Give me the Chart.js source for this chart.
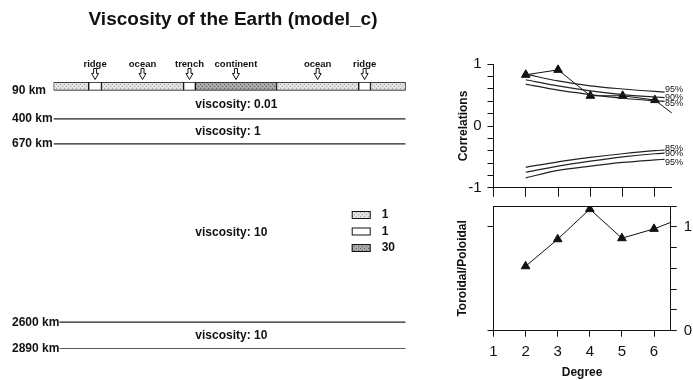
<!DOCTYPE html>
<html>
<head>
<meta charset="utf-8">
<script src="https://cdn.jsdelivr.net/npm/chart.js@4/dist/chart.umd.min.js"></script>
<style>
  html, body { margin: 0; padding: 0; background: #fff; }
  #wrap { position: relative; width: 693px; height: 380px; overflow: hidden; }
  canvas { position: absolute; }
  #model { left: 0; top: 0; }
  #corr { left: 420px; top: 40px; }
  #ratio { left: 420px; top: 200px; }
</style>
</head>
<body>
<div id="wrap">
  <canvas id="model" width="420" height="380"></canvas>
  <canvas id="corr" width="273" height="160"></canvas>
  <canvas id="ratio" width="273" height="180"></canvas>
</div>
<script>
/* Earth model strip (longitude 0..360) */
const segEdges = [0, 36, 49, 133, 145, 228, 312, 324, 360];
const segKind = ['ocean', 'ridge', 'ocean', 'trench', 'continent', 'ocean', 'ridge', 'ocean'];
const segTag = ['', 'ridge', 'ocean', 'trench', 'continent', 'ocean', 'ridge', ''];
const layerDepths = [90, 400, 670, 2600, 2890];
const layerViscosity = ['0.01', '1', '10', '10'];
const legendKinds = ['ocean', 'ridge', 'continent'];
const legendValues = ['1', '1', '30'];

/* right hand panels */
const degrees = [2, 3, 4, 5, 6, 7];
const correlation = [0.83, 0.91, 0.49, 0.49, 0.42, 0.02];
const toroidalRatio = [0.62, 0.88, 1.17, 0.89, 0.98, 1.10];
const sigDegrees = [2, 3, 4, 5, 6, 6.3];
const sig95 = [0.84, 0.73, 0.65, 0.60, 0.56, 0.55];
const sig90 = [0.75, 0.65, 0.57, 0.51, 0.47, 0.46];
const sig85 = [0.68, 0.58, 0.51, 0.45, 0.41, 0.40];
const sig85Low = [-0.67, -0.58, -0.51, -0.45, -0.40, -0.39];
const sig90Low = [-0.75, -0.65, -0.57, -0.50, -0.45, -0.44];
const sig95Low = [-0.84, -0.72, -0.65, -0.59, -0.55, -0.54];

const FAM = '"Liberation Sans", Arial, Helvetica, sans-serif';
const INK = '#111';
Chart.defaults.font.family = FAM;
Chart.defaults.color = INK;

function stipple(base, dot){
  const c = document.createElement('canvas');
  c.width = 4; c.height = 4;
  const g = c.getContext('2d');
  g.fillStyle = base; g.fillRect(0, 0, 4, 4);
  g.fillStyle = dot; g.fillRect(0, 0, 1, 1); g.fillRect(2, 2, 1, 1);
  return g.createPattern(c, 'repeat');
}
const fills = {
  ocean: stipple('#e2e2e2', '#a4a4a4'),
  ridge: '#ffffff',
  trench: '#ffffff',
  continent: stipple('#a8a8a8', '#5e5e5e')
};

function drawArrow(ctx, cx, y0, y1){
  const mid = y0 + (y1 - y0) * 0.45;
  ctx.beginPath();
  ctx.moveTo(cx - 1.5, y0); ctx.lineTo(cx + 1.5, y0); ctx.lineTo(cx + 1.5, mid);
  ctx.lineTo(cx + 3.5, mid); ctx.lineTo(cx, y1); ctx.lineTo(cx - 3.5, mid);
  ctx.lineTo(cx - 1.5, mid); ctx.closePath();
  ctx.fillStyle = '#fff'; ctx.fill();
  ctx.lineWidth = 1; ctx.strokeStyle = INK; ctx.stroke();
}

const modelDecor = {
  id: 'modelDecor',
  afterDraw(chart){
    const {ctx, scales: {x, y}} = chart;
    ctx.save();
    ctx.fillStyle = INK;
    // title
    ctx.textAlign = 'center'; ctx.textBaseline = 'alphabetic';
    ctx.font = 'bold 19px ' + FAM;
    ctx.fillText('Viscosity of the Earth (model_c)', 233, 24.5);
    // tags + arrows above the strip
    const top = y.getPixelForValue(0);
    ctx.font = 'bold 9.5px ' + FAM;
    segTag.forEach((t, i) => {
      if (!t) return;
      const cx = x.getPixelForValue((segEdges[i] + segEdges[i + 1]) / 2);
      ctx.fillStyle = INK;
      ctx.fillText(t, cx, top - 15.5);
      drawArrow(ctx, cx, top - 13.5, top - 2.5);
    });
    // depth labels
    ctx.font = 'bold 12px ' + FAM;
    ctx.textAlign = 'left'; ctx.textBaseline = 'middle';
    layerDepths.forEach(d => {
      const py = y.getPixelForValue(d);
      const txt = d + ' km';
      const w = ctx.measureText(txt).width;
      ctx.fillStyle = '#fff'; ctx.fillRect(11, py - 6, w + 1, 12);
      ctx.fillStyle = INK; ctx.fillText(txt, 12, py);
    });
    // viscosity of each layer
    const vx = x.getPixelForValue(segEdges[4]);
    layerViscosity.forEach((v, i) => {
      const py = y.getPixelForValue((layerDepths[i] + layerDepths[i + 1]) / 2);
      ctx.fillText('viscosity: ' + v, vx, py);
    });
    // legend of strip fills
    const lx = chart.chartArea.right - 54;
    legendKinds.forEach((k, i) => {
      const cy = chart.chartArea.top + 133 + i * 16.5;
      ctx.fillStyle = fills[k]; ctx.fillRect(lx, cy - 4, 19, 8);
      ctx.lineWidth = 1; ctx.strokeStyle = INK; ctx.strokeRect(lx + 0.5, cy - 3.5, 18, 7);
      ctx.fillStyle = INK; ctx.fillText(legendValues[i], lx + 30, cy);
    });
    ctx.restore();
  }
};

new Chart(document.getElementById('model'), {
  type: 'bar',
  data: {
    datasets: [
      {
        type: 'bar', indexAxis: 'y',
        data: segKind.map((k, i) => ({x: [segEdges[i], segEdges[i + 1]], y: layerDepths[0] / 2})),
        backgroundColor: segKind.map(k => fills[k]),
        borderColor: INK, borderWidth: 1, borderSkipped: false, barThickness: 8.3
      },
      ...layerDepths.slice(1).map(d => ({
        type: 'line', indexAxis: 'x',
        data: [{x: 0, y: d}, {x: 360, y: d}],
        borderColor: '#222', borderWidth: 1.3, pointRadius: 0
      }))
    ]
  },
  options: {
    responsive: false, animation: false, events: [],
    layout: {padding: {left: 53.5, right: 14.3, top: 82, bottom: 31}},
    plugins: {legend: {display: false}, tooltip: {enabled: false}},
    scales: {
      x: {type: 'linear', min: 0, max: 360, offset: false, display: false},
      y: {type: 'linear', min: 0, max: 2890, reverse: true, offset: false, display: false}
    }
  },
  plugins: [modelDecor]
});

/* ---- correlations ---- */
const sigLabelPlugin = {
  id: 'sigLabels',
  afterDatasetsDraw(chart){
    const {ctx, scales: {x, y}} = chart;
    ctx.save();
    ctx.font = '9px ' + FAM;
    ctx.fillStyle = INK; ctx.textAlign = 'left'; ctx.textBaseline = 'middle';
    chart.data.datasets.forEach(ds => {
      if (!ds.tag) return;
      const last = ds.data[ds.data.length - 1];
      ctx.fillText(ds.tag, x.getPixelForValue(last.x) + 0.5, y.getPixelForValue(last.y) + ds.tagDy);
    });
    ctx.restore();
  }
};
const curve = (vals, tag, dy) => ({
  data: sigDegrees.map((d, i) => ({x: d, y: vals[i]})),
  tag, tagDy: dy,
  borderColor: '#222', borderWidth: 1.2, pointRadius: 0, cubicInterpolationMode: 'monotone'
});
const minorTickLabel = v => Math.abs(v - Math.round(v)) < 1e-6 ? String(Math.round(v) || 0) : '';
const noPad = s => { s.paddingTop = 0; s.paddingBottom = 0; };

new Chart(document.getElementById('corr'), {
  type: 'line',
  data: {
    datasets: [
      curve(sig95, '95%', -3), curve(sig90, '90%', 0), curve(sig85, '85%', 2),
      curve(sig85Low, '85%', -2), curve(sig90Low, '90%', 0), curve(sig95Low, '95%', 3),
      {
        data: degrees.map((d, i) => ({x: d, y: correlation[i]})),
        borderColor: INK, borderWidth: 1, pointStyle: 'triangle', pointRadius: 5,
        pointBackgroundColor: INK, pointBorderColor: INK, pointBorderWidth: 1
      }
    ]
  },
  options: {
    responsive: false, animation: false, events: [],
    layout: {padding: {left: 32, top: 24.3, right: 21.3, bottom: 0}},
    plugins: {legend: {display: false}, tooltip: {enabled: false}},
    scales: {
      x: {
        type: 'linear', min: 1, max: 6.52,
        afterFit: s => { s.height = 12.3; },
        ticks: {display: false, stepSize: 1, includeBounds: false, autoSkip: false},
        grid: {drawOnChartArea: false, tickLength: 9, color: INK},
        border: {color: INK}
      },
      y: {
        type: 'linear', min: -1, max: 1,
        afterFit: s => { s.width = 41.5; noPad(s); },
        ticks: {stepSize: 0.2, includeBounds: false, autoSkip: false, padding: 6, color: INK,
          font: {size: 15}, callback: minorTickLabel},
        grid: {drawOnChartArea: false, tickLength: 6, color: INK},
        border: {color: INK},
        title: {display: true, text: 'Correlations', color: INK, font: {size: 12, weight: 'bold'}}
      }
    }
  },
  plugins: [sigLabelPlugin]
});

/* ---- toroidal / poloidal ---- */
new Chart(document.getElementById('ratio'), {
  type: 'line',
  data: {
    datasets: [{
      data: degrees.map((d, i) => ({x: d, y: toroidalRatio[i]})),
      borderColor: INK, borderWidth: 1, pointStyle: 'triangle', pointRadius: 5,
      pointBackgroundColor: INK, pointBorderColor: INK, pointBorderWidth: 1,
      xAxisID: 'x', yAxisID: 'y'
    }]
  },
  options: {
    responsive: false, animation: false, events: [],
    layout: {padding: {left: 31.5, top: 5.7, right: 0, bottom: 0}},
    plugins: {legend: {display: false}, tooltip: {enabled: false}},
    scales: {
      x: {
        type: 'linear', position: 'bottom', min: 1, max: 6.52,
        afterFit: s => { s.height = 49.3; },
        ticks: {stepSize: 1, includeBounds: false, autoSkip: false, maxRotation: 0, padding: 6,
          color: INK, font: {size: 15}},
        grid: {drawOnChartArea: false, tickLength: 6, color: INK},
        border: {color: INK},
        title: {display: true, text: 'Degree', color: INK, padding: {top: 0, bottom: 0},
          font: {size: 12, weight: 'bold'}}
      },
      xTop: {
        type: 'linear', position: 'top', min: 1, max: 6.52,
        afterFit: s => { s.height = 0; },
        ticks: {display: false},
        grid: {drawOnChartArea: false, drawTicks: false},
        border: {display: true, color: INK}
      },
      y: {
        type: 'linear', position: 'left', min: 0, max: 1.2,
        afterBuildTicks: s => { s.ticks = [{value: 0}, {value: 1}]; },
        afterFit: s => { s.width = 42; noPad(s); },
        ticks: {autoSkip: false, callback: () => ''},
        grid: {drawOnChartArea: false, tickLength: 6, color: INK},
        border: {color: INK},
        title: {display: true, text: 'Toroidal/Poloidal', color: INK, font: {size: 12, weight: 'bold'}}
      },
      y2: {
        type: 'linear', position: 'right', min: 0, max: 1.2,
        afterFit: s => { s.width = 22.3; noPad(s); },
        ticks: {stepSize: 0.2, includeBounds: false, autoSkip: false, padding: 7, color: INK,
          font: {size: 15}, callback: minorTickLabel},
        grid: {drawOnChartArea: false, tickLength: 6, color: INK},
        border: {color: INK}
      }
    }
  }
});
</script>
</body>
</html>
